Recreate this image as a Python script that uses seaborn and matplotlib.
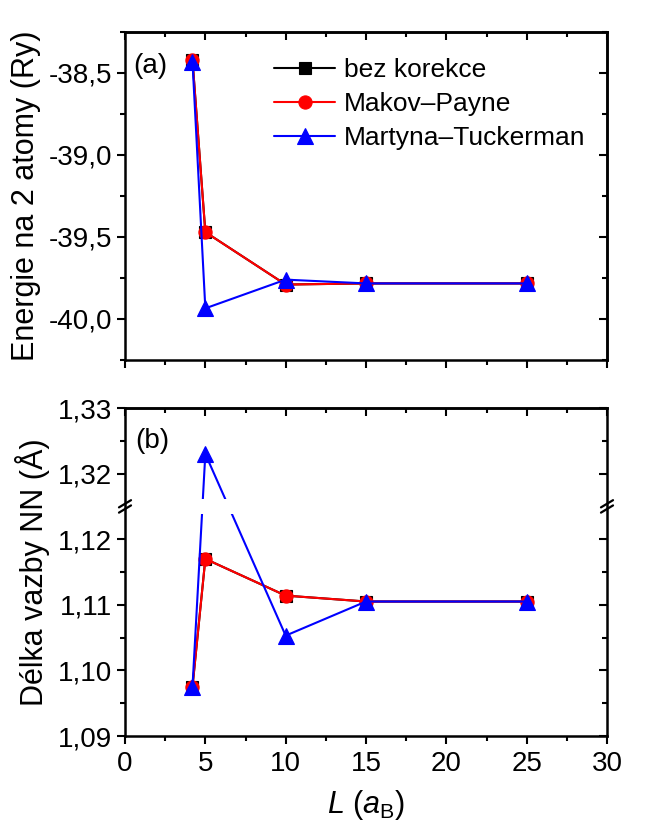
import numpy as np
import pandas as pd
import matplotlib
matplotlib.use("Agg")
import matplotlib.pyplot as plt
import matplotlib.ticker as mticker
import seaborn as sns

# ---------------- data ----------------
L_values = [4.2, 5, 10, 15, 25]

energy_bez = [-38.42, -39.47, -39.79, -39.783, -39.783]
energy_mp = [-38.42, -39.47, -39.79, -39.783, -39.783]
energy_mt = [-38.43, -39.935, -39.76, -39.783, -39.783]

bond_bez = [1.0975, 1.1170, 1.1114, 1.1105, 1.1105]
bond_mp = [1.0975, 1.1170, 1.1114, 1.1105, 1.1105]
bond_mt = [1.0975, 1.3230, 1.1053, 1.1105, 1.1105]

series_names = ["bez korekce", "Makov\u2013Payne", "Martyna\u2013Tuckerman"]
series_colors = ["#000000", "#ff0000", "#0000ff"]
series_markers = ["s", "o", "^"]

top_yticks = [-40.0, -39.5, -39.0, -38.5]
bottom_yticks = [1.09, 1.10, 1.11, 1.12, 1.32, 1.33]
bottom_yminor = [1.095, 1.105, 1.115, 1.325]
xticks = [0, 5, 10, 15, 20, 25, 30]

BREAK_LO, BREAK_HI = 1.125, 1.315

# ---------------- style ----------------
sns.set_style("ticks")
plt.rcParams["font.family"] = ["Liberation Sans", "DejaVu Sans"]
plt.rcParams["mathtext.fontset"] = "custom"
plt.rcParams["mathtext.rm"] = "Liberation Sans"
plt.rcParams["mathtext.it"] = "Liberation Sans:italic"
plt.rcParams["axes.linewidth"] = 1.8
for k in ["text.color", "axes.labelcolor", "xtick.color", "ytick.color", "axes.edgecolor"]:
    plt.rcParams[k] = "black"

fig = plt.figure(figsize=(6.52, 8.25), dpi=100)
W, H = 652, 825
left = 125 / W
width = 482 / W
ax1 = fig.add_axes([left, 1 - 360 / H, width, 328 / H])
ax2 = fig.add_axes([left, 1 - 736 / H, width, 328 / H])

df_top = pd.DataFrame({"L": L_values * 3,
                       "E": energy_bez + energy_mp + energy_mt,
                       "s": sum([[n] * len(L_values) for n in series_names], [])})
df_bot = pd.DataFrame({"L": L_values * 3,
                       "d": bond_bez + bond_mp + bond_mt,
                       "s": sum([[n] * len(L_values) for n in series_names], [])})

msizes = [8.5, 9.5, 11]


# broken-axis scale for bottom panel
def fwd(y):
    y = np.asarray(y, dtype=float)
    return np.where(y <= BREAK_LO, y,
                    np.where(y >= BREAK_HI, y - (BREAK_HI - BREAK_LO),
                             BREAK_LO + (y - BREAK_LO) * 1e-6))


def inv(y):
    y = np.asarray(y, dtype=float)
    return np.where(y <= BREAK_LO, y, y + (BREAK_HI - BREAK_LO))


ax2.set_yscale("function", functions=(fwd, inv))

for ax, df, ycol in [(ax1, df_top, "E"), (ax2, df_bot, "d")]:
    for name, col, mk, ms in zip(series_names, series_colors, series_markers, msizes):
        sub = df[df["s"] == name]
        sns.lineplot(data=sub, x="L", y=ycol, ax=ax, color=col, marker=mk,
                     markersize=ms, markeredgecolor=col, markeredgewidth=0.8,
                     linewidth=1.5, label=name, sort=False, zorder=4)

# ---- top axis ----
ax1.set_xlim(0, 30)
ax1.set_ylim(-40.25, -38.25)
ax1.yaxis.set_major_locator(mticker.FixedLocator(top_yticks))
ax1.yaxis.set_minor_locator(mticker.MultipleLocator(0.25))
ax1.yaxis.set_major_formatter(mticker.FuncFormatter(lambda v, p: f"{v:.1f}".replace(".", ",")))
ax1.set_ylabel("Energie na 2 atomy (Ry)", fontsize=22, labelpad=6)
ax1.set_xlabel("")
ax1.tick_params(axis="x", labelbottom=False)

# ---- bottom axis ----
ax2.set_xlim(0, 30)
ax2.set_ylim(1.09, 1.33)
ax2.yaxis.set_major_locator(mticker.FixedLocator(bottom_yticks))
ax2.yaxis.set_minor_locator(mticker.FixedLocator(bottom_yminor))
ax2.yaxis.set_major_formatter(mticker.FuncFormatter(lambda v, p: f"{v:.2f}".replace(".", ",")))
ax2.set_ylabel("D\u00e9lka vazby NN (\u00c5)", fontsize=22, labelpad=6)
ax2.set_xlabel(r"$L$ ($a_\mathrm{B}$)", fontsize=22, labelpad=8)

# gap in lines at the break
ax2.axhspan(1.1238, 1.3162, xmin=0.004, xmax=0.996, color="white", zorder=5, lw=0)

for ax in (ax1, ax2):
    ax.xaxis.set_major_locator(mticker.FixedLocator(xticks))
    ax.xaxis.set_minor_locator(mticker.MultipleLocator(2.5))
    ax.tick_params(which="both", direction="out", width=1.5, labelsize=20,
                   top=False, right=False)
    ax.tick_params(which="major", length=6)
    ax.tick_params(which="minor", length=3.5)
    ax.tick_params(axis="both", pad=3)
    ax.tick_params(axis="x", pad=5)
    for sp in ax.spines.values():
        sp.set_visible(True)
        sp.set_linewidth(1.8)
        sp.set_zorder(6)
    sx = ax.secondary_xaxis("top")
    sx.xaxis.set_major_locator(mticker.FixedLocator(xticks))
    sx.xaxis.set_minor_locator(mticker.MultipleLocator(2.5))
    sx.tick_params(which="both", direction="in", width=1.5, labeltop=False)
    sx.tick_params(which="major", length=6)
    sx.tick_params(which="minor", length=3.5)
    sx.spines["top"].set_linewidth(1.8)

sy1 = ax1.secondary_yaxis("right")
sy1.yaxis.set_major_locator(mticker.FixedLocator(top_yticks))
sy1.yaxis.set_minor_locator(mticker.MultipleLocator(0.25))
sy1.tick_params(which="both", direction="in", width=1.5, labelright=False)
sy1.tick_params(which="major", length=6)
sy1.tick_params(which="minor", length=3.5)
sy1.spines["right"].set_linewidth(1.8)

# right-side inward ticks for the broken bottom axis
ax2.tick_params(axis="y", which="both", right=True, labelright=False)
for t in ax2.yaxis.get_major_ticks() + ax2.yaxis.get_minor_ticks():
    t.tick2line.set_marker(matplotlib.lines.TICKLEFT)

# break marks
yb = (fwd(BREAK_LO) - 1.09) / (fwd(1.33) - 1.09)
for xs in (0.0, 1.0):
    for off in (-0.008, 0.008):
        ax2.plot([xs - 0.0125, xs + 0.0125], [yb + off - 0.011, yb + off + 0.011],
                 transform=ax2.transAxes, color="black", lw=1.6, clip_on=False, zorder=7)

# panel labels
ax1.text(0.018, 0.895, "(a)", transform=ax1.transAxes, fontsize=20, va="center", ha="left")
ax2.text(0.022, 0.90, "(b)", transform=ax2.transAxes, fontsize=20, va="center", ha="left")

# legend
ax1.legend(loc="upper left", bbox_to_anchor=(0.31, 0.92), frameon=False, fontsize=19,
           handlelength=2.3, handletextpad=0.35, labelspacing=0.38, borderpad=0,
           borderaxespad=0)
leg2 = ax2.get_legend()
if leg2 is not None:
    leg2.remove()

fig.savefig("out.png", dpi=100)
